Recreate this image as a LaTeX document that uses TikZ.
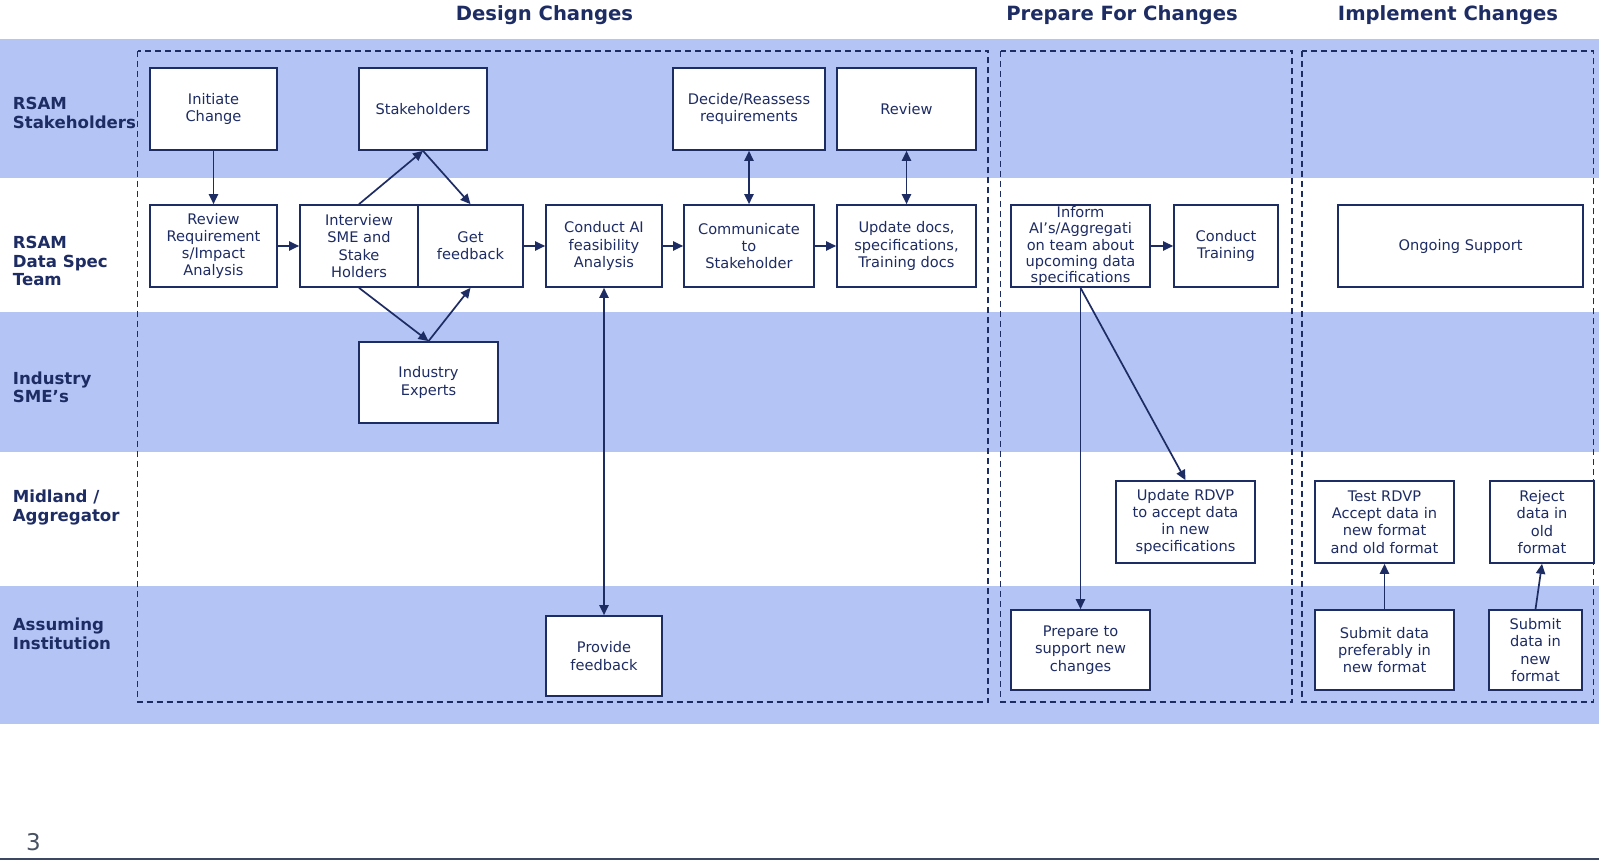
\documentclass[tikz,border=0pt]{standalone}
\usepackage{fontspec}
\setmainfont{DejaVu Sans}
\usetikzlibrary{arrows.meta}
\definecolor{navy}{RGB}{30,44,100}
\definecolor{laneblue}{RGB}{180,196,245}
\definecolor{pagegray}{RGB}{72,82,98}
\tikzstyle{task} = [draw=navy, fill=white, line width=0.85pt, text=navy, align=center, inner sep=0pt, minimum height=41pt, font=\fontsize{7.3}{8.6}\selectfont]
\tikzstyle{lanelabel} = [anchor=west, align=left, inner sep=0pt, text=navy, font=\fontsize{8.3}{9.3}\selectfont\bfseries]
\tikzstyle{phase} = [text=navy, inner sep=0pt, font=\fontsize{9.8}{11}\selectfont\bfseries]
\tikzstyle{phasebox} = [draw=navy, line width=0.75pt, dash pattern=on 3pt off 2pt]
\tikzstyle{flow} = [line width=0.85pt, draw=navy, -{Triangle[length=5pt,width=4.6pt]}]
\tikzstyle{twoway} = [line width=0.85pt, draw=navy, {Triangle[length=5pt,width=4.6pt]}-{Triangle[length=5pt,width=4.6pt]}]

\begin{document}
\begin{tikzpicture}[x=0.5pt,y=-0.5pt]
    \useasboundingbox (0,0) rectangle (1599,860);
    \fill[white] (0,0) rectangle (1599,860);
    \foreach \ya/\yb in {39/178,312/452,586/724}{
        \fill[laneblue] (0,\ya) rectangle (1599,\yb);
    }
    \draw[pagegray!70!navy, line width=1pt] (0,859) -- (1599,859);
    \node[text=pagegray, inner sep=0pt, font=\fontsize{11.5}{12}\selectfont] (pagenum) at (33.5,842) {3};

    \node[phase] (design) at (544.5,15) {Design Changes};
    \node[phase] (prepare) at (1122,15) {Prepare For Changes};
    \node[phase] (implement) at (1448,15) {Implement Changes};

    \foreach \y/\lab [count=\i] in {113/{RSAM\\Stakeholders},261/{RSAM\\Data Spec\\Team},387.5/{Industry\\SME's},507.5/{Midland /\\Aggregator},634/{Assuming\\Institution}}{
        \node[lanelabel] (lane\i) at (12.5,\y) {\lab};
    }

    \draw[phasebox] (137.5,51) rectangle (988,702);
    \draw[phasebox] (1000.5,51) rectangle (1292,702);
    \draw[phasebox] (1302,51) rectangle (1593.5,702);

    \node[task, minimum width=63.5pt] (initiate) at (213.5,109) {Initiate\\Change};
    \node[task, minimum width=64pt] (stake) at (423,109) {Stakeholders};
    \node[task, minimum width=76pt] (decide) at (749,109) {Decide/Reassess\\requirements};
    \node[task, minimum width=69.5pt] (review) at (906.5,109) {Review};
    \node[task, minimum width=63.5pt] (reviewreq) at (213.5,246) {Review\\Requirement\\s/Impact\\Analysis};
    \node[task, minimum width=59pt] (interview) at (359,246) {Interview\\SME and\\Stake\\Holders};
    \node[task, minimum width=52.5pt] (getfb) at (470.5,246) {Get\\feedback};
    \node[task, minimum width=58pt] (conductai) at (604,246) {Conduct AI\\feasibility\\Analysis};
    \node[task, minimum width=65pt] (communicate) at (749,246) {Communicate\\to\\Stakeholder};
    \node[task, minimum width=69.5pt] (updatedocs) at (906.5,246) {Update docs,\\specifications,\\Training docs};
    \node[task, minimum width=69.5pt, font=\fontsize{7.3}{8.2}\selectfont] (inform) at (1080.5,246) {Inform\\AI's/Aggregati\\on team about\\upcoming data\\specifications};
    \node[task, minimum width=52pt] (training) at (1226,246) {Conduct\\Training};
    \node[task, minimum width=122.5pt] (support) at (1460.5,246) {Ongoing Support};
    \node[task, minimum width=69.5pt, minimum height=40.5pt] (experts) at (428.5,382.5) {Industry\\Experts};
    \node[task, minimum width=69.5pt] (updaterdvp) at (1185.5,522) {Update RDVP\\to accept data\\in new\\specifications};
    \node[task, minimum width=69.5pt] (testrdvp) at (1384.5,522) {Test RDVP\\Accept data in\\new format\\and old format};
    \node[task, minimum width=52pt] (reject) at (1542,522) {Reject\\data in\\old\\format};
    \node[task, minimum width=58pt, minimum height=40pt] (provide) at (604,656) {Provide\\feedback};
    \node[task, minimum width=69.5pt, minimum height=40pt] (prepsupport) at (1080.5,650) {Prepare to\\support new\\changes};
    \node[task, minimum width=69.5pt, minimum height=40pt] (submitpref) at (1384.5,650) {Submit data\\preferably in\\new format};
    \node[task, minimum width=46.5pt, minimum height=40pt] (submitnew) at (1535.5,650) {Submit\\data in\\new\\format};

    \draw[flow] (initiate) -- (reviewreq);
    \draw[flow] (reviewreq) -- (interview);
    \draw[flow] (interview.north) -- (stake.south);
    \draw[flow] (stake.south) -- (getfb.north);
    \draw[flow] (interview.south) -- (experts.north);
    \draw[flow] (experts.north) -- (getfb.south);
    \draw[flow] (getfb) -- (conductai);
    \draw[flow] (conductai) -- (communicate);
    \draw[flow] (communicate) -- (updatedocs);
    \draw[twoway] (communicate) -- (decide);
    \draw[twoway] (updatedocs) -- (review);
    \draw[twoway] (conductai) -- (provide);
    \draw[flow] (inform) -- (training);
    \draw[flow] (inform) -- (prepsupport);
    \draw[flow] (inform.south) -- (updaterdvp.north);
    \draw[flow] (submitpref) -- (testrdvp);
    \draw[flow] (submitnew.north) -- (reject.south);
\end{tikzpicture}
\end{document}
